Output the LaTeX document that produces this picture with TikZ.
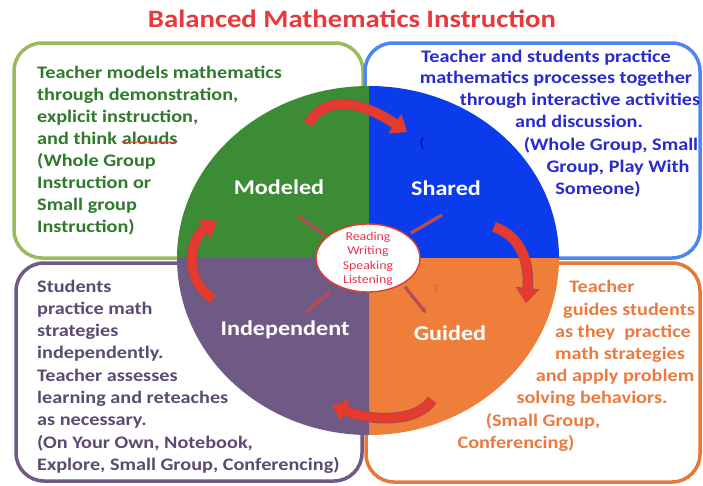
\documentclass[tikz,border=0pt]{standalone}
\usepackage{fontspec}
\setmainfont{Carlito}[FakeStretch=1.15]
\usetikzlibrary{arrows.meta,decorations.pathmorphing,shapes.geometric}
\definecolor{gbord}{HTML}{9BBB59}
\definecolor{gfill}{HTML}{3C8C36}
\definecolor{gtext}{HTML}{2F7A2C}
\definecolor{bbord}{HTML}{4F86EC}
\definecolor{bfill}{HTML}{0B3CEB}
\definecolor{btext}{HTML}{2A2ACD}
\definecolor{pbord}{HTML}{6E5A85}
\definecolor{pfill}{HTML}{6E5A84}
\definecolor{ptext}{HTML}{5C4A72}
\definecolor{obord}{HTML}{E27A3A}
\definecolor{ofill}{HTML}{EE7E3A}
\definecolor{otext}{HTML}{EC7A40}
\definecolor{arrred}{HTML}{E53A30}
\definecolor{arrdark}{HTML}{9A4A50}
\definecolor{titred}{HTML}{E8383A}
\definecolor{spokeedge}{HTML}{6A6AA0}
\definecolor{ctrred}{HTML}{E83450}
\begin{document}
\begin{tikzpicture}[x=1pt,y=-1pt,
  box/.style={line width=3.5pt,rounded corners=28pt},
  bodytext/.style={font=\fontsize{17.6}{20}\selectfont\bfseries,inner sep=0pt},
  quadlabel/.style={font=\fontsize{21}{24}\selectfont\bfseries,text=white,inner sep=0pt},
  bigarrow/.style={line width=9pt,arrred,-{Triangle[width=21pt,length=14pt]},
     preaction={draw=arrdark,line width=10.5pt,-{Triangle[width=23pt,length=15pt]}}},
  spoke/.style={line width=2pt,arrred,preaction={draw=spokeedge,line width=3.2pt}},
]
\useasboundingbox (0,0) rectangle (703,485);
\fill[white] (0,0) rectangle (703,485);
% title
\node[font=\fontsize{25}{28}\selectfont\bfseries,text=titred,anchor=base,inner sep=0pt] (title) at (352,27) {Balanced Mathematics Instruction};
% boxes
\draw[box,gbord] (14,43) rectangle (363,258);
\draw[box,bbord] (365,43) rectangle (700,258);
\draw[box,pbord] (16,263) rectangle (362,481);
\draw[box,obord] (366,263) rectangle (700,482);
% quadrants
\coordinate (C) at (369,258);
\fill[gfill] (C) -- ++(-192,0) arc[start angle=180,end angle=270,x radius=192,y radius=172] -- cycle;
\fill[bfill] (C) -- ++(0,-172) arc[start angle=270,end angle=360,x radius=190,y radius=172] -- cycle;
\fill[ofill] (C) -- ++(190,0) arc[start angle=0,end angle=90,x radius=190,y radius=177] -- cycle;
\fill[pfill] (C) -- ++(0,177) arc[start angle=90,end angle=180,x radius=192,y radius=177] -- cycle;
% stray marks
\node[text=blue!70!black,font=\fontsize{14}{14}\selectfont,inner sep=0pt] (stray1) at (422,143) {(};
\node[text=orange!80!red,font=\fontsize{13}{13}\selectfont,inner sep=0pt] (stray2) at (436,289) {T};
% quadrant labels
\node[quadlabel] (mod) at (279,187) {Modeled};
\node[quadlabel] (sha) at (446,188) {Shared};
\node[quadlabel] (ind) at (285,330) {Independent};
\node[quadlabel] (gui) at (450,333) {Guided};
% spokes
\coordinate (s1a) at (325,235); \coordinate (s1b) at (298,216);
\coordinate (s2a) at (411,233); \coordinate (s2b) at (442,215);
\coordinate (s3a) at (330,292); \coordinate (s3b) at (306,312);
\coordinate (s4a) at (405,287); \coordinate (s4b) at (426,313);
\draw[spoke] (s1a) -- (s1b);
\draw[spoke] (s2a) -- (s2b);
\draw[spoke] (s3a) -- (s3b);
\draw[spoke,-{Stealth[length=5pt,width=5pt]}] (s4a) -- (s4b);
% centre ellipse
\node[ellipse,draw=arrred,line width=1.4pt,fill=white,minimum width=104pt,minimum height=68pt,inner sep=0pt] (ctr) at (368,258) {};
\node[align=center,text=ctrred,font=\fontsize{12}{14.5}\selectfont,inner sep=0pt] (ctrtext) at (368,259) {Reading\\Writing\\Speaking\\Listening};
% big arrows
\coordinate (a1s) at (308,124); \coordinate (a1e) at (407,132);
\coordinate (a2s) at (494,227); \coordinate (a2e) at (526,303);
\coordinate (a3s) at (432,400); \coordinate (a3e) at (332,405);
\coordinate (a4s) at (213,299); \coordinate (a4e) at (217,221);
\draw[bigarrow] (a1s) .. controls (325,95) and (360,100) .. (a1e);
\draw[bigarrow] (a2s) .. controls (522,236) and (530,265) .. (a2e);
\draw[bigarrow] (a3s) .. controls (418,422) and (372,422) .. (a3e);
\draw[bigarrow] (a4s) .. controls (182,278) and (190,238) .. (a4e);
% green text
\foreach \t [count=\i] in {{Teacher models mathematics},{through demonstration,},{explicit instruction,},{and think},{(Whole Group},{Instruction or},{Small group},{Instruction)}}
  \node[bodytext,text=gtext,anchor=base west] (g\i) at (37,{78+22.1*(\i-1)}) {\t};
\node[bodytext,text=gtext,anchor=base west] (g4b) at ([xshift=4.5pt]g4.base east) {alouds};
\draw[arrred,line width=0.6pt,decorate,decoration={snake,amplitude=0.8pt,segment length=3pt}] ([yshift=2pt]g4b.base west) -- ([yshift=2pt]g4b.base east);
% blue text
\foreach \t/\cx/\by [count=\i] in {{Teacher and students practice}/546/62,{mathematics processes together}/556/83,{through interactive activities}/580/105,{and discussion.}/579/127,{(Whole Group, Small}/611/150,{Group, Play With}/618/172,{Someone)}/598/194}
  \node[bodytext,text=btext,anchor=base] (b\i) at (\cx,\by) {\t};
% purple text
\foreach \t [count=\i] in {{Students},{practice math},{strategies},{independently.},{Teacher assesses},{learning and reteaches},{as necessary.},{(On Your Own, Notebook,},{Explore, Small Group, Conferencing)}}
  \node[bodytext,text=ptext,anchor=base west] (p\i) at (37,{292+22.3*(\i-1)}) {\t};
% orange text
\foreach \t/\cx/\by [count=\i] in {{Teacher}/602/292,{guides students}/629/315,{as they\ \ practice}/623/337,{math strategies}/620/359,{and apply problem}/615/381,{solving behaviors.}/592/403,{(Small Group,}/543/426,{Conferencing)}/516/448}
  \node[bodytext,text=otext,anchor=base] (o\i) at (\cx,\by) {\t};
\end{tikzpicture}
\end{document}
